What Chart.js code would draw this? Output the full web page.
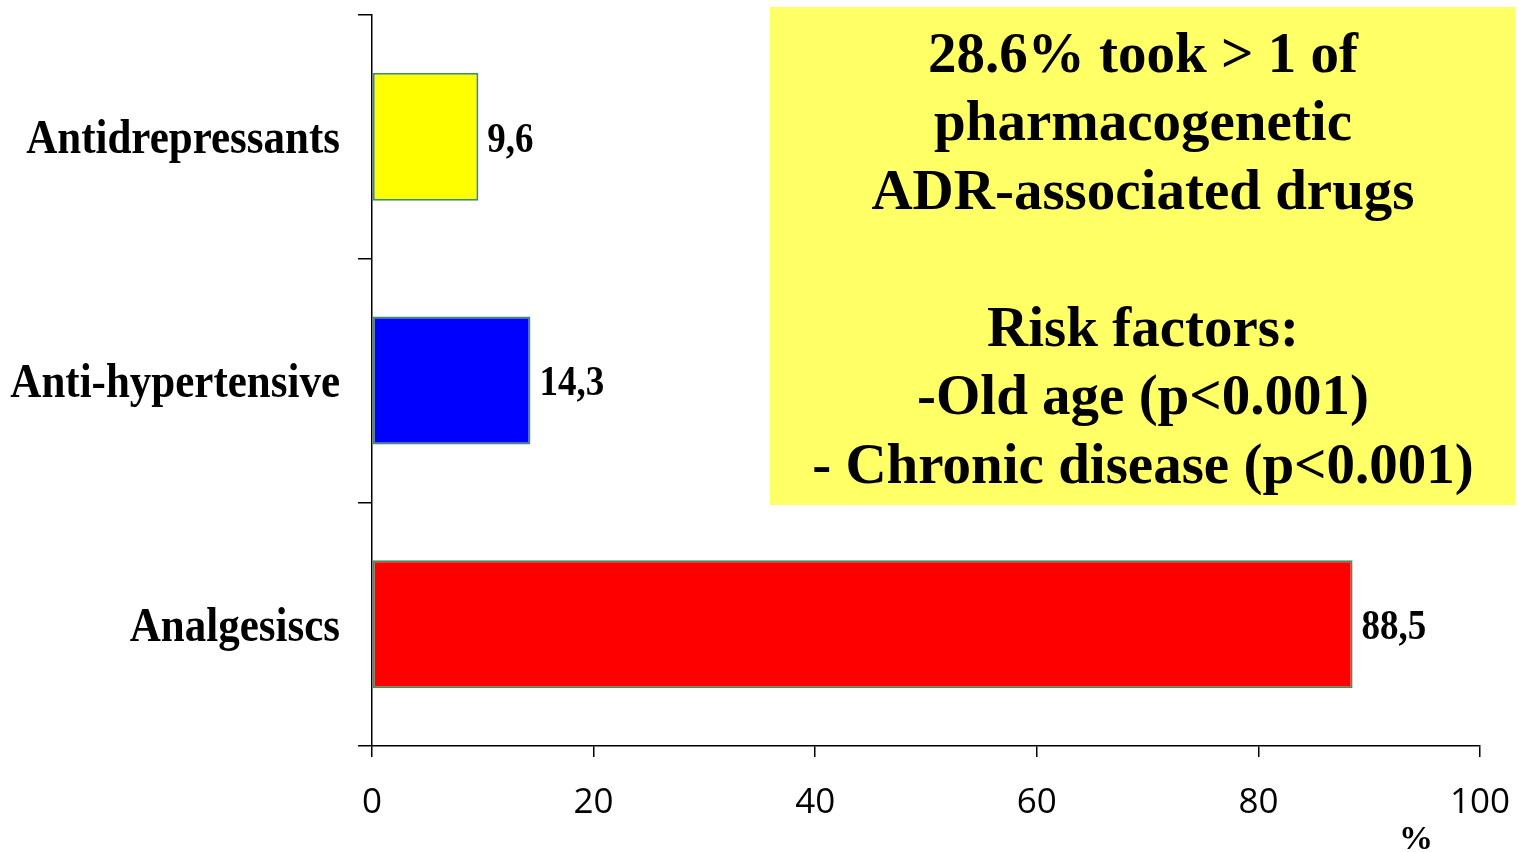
<!DOCTYPE html>
<html>
<head>
<meta charset="utf-8">
<title>Pharmacogenetic ADR-associated drugs</title>
<script src="https://cdn.jsdelivr.net/npm/chart.js@4/dist/chart.umd.min.js"></script>
<style>
  html, body { margin: 0; padding: 0; background: #fff; }
  #chart { display: block; }
</style>
</head>
<body>
<canvas id="chart" width="1523" height="852"></canvas>
<script>
// ── Data ──────────────────────────────────────────────────
const categories = ['Antidrepressants', 'Anti-hypertensive', 'Analgesiscs'];
const percentages = [9.6, 14.3, 88.5];
const barColors = ['#ffff00', '#0000ff', '#ff0000'];
const xTicks = [0, 20, 40, 60, 80, 100];
const noteLines = [
  '28.6% took > 1 of',
  'pharmacogenetic',
  'ADR-associated drugs',
  '',
  'Risk factors:',
  '-Old age (p<0.001)',
  '- Chronic disease (p<0.001)'
];

const SERIF = '"Liberation Serif", "Times New Roman", serif';
const SANS = '"Open Sans", "Noto Sans", sans-serif';

// draw text a little taller than the font's natural shape
function tallText(ctx, txt, x, y, stretch) {
  ctx.save();
  ctx.translate(x, y);
  ctx.scale(1, stretch);
  ctx.fillText(txt, 0, 0);
  ctx.restore();
}

// category names left of the y axis
const categoryLabels = {
  id: 'categoryLabels',
  afterDraw(chart) {
    const ctx = chart.ctx;
    const y = chart.scales.y;
    ctx.save();
    ctx.font = 'bold 43px ' + SERIF;
    ctx.fillStyle = '#000';
    ctx.textAlign = 'right';
    ctx.textBaseline = 'middle';
    categories.forEach(function (name, i) {
      tallText(ctx, name, y.right - 32, y.getPixelForValue(i) + 4, 1.12);
    });
    ctx.restore();
  }
};

// value printed after each bar end, decimal comma
const valueLabels = {
  id: 'valueLabels',
  afterDatasetsDraw(chart) {
    const ctx = chart.ctx;
    const meta = chart.getDatasetMeta(0);
    ctx.save();
    ctx.font = 'bold 37px ' + SERIF;
    ctx.fillStyle = '#000';
    ctx.textAlign = 'left';
    ctx.textBaseline = 'middle';
    meta.data.forEach(function (bar, i) {
      const txt = percentages[i].toFixed(1).replace('.', ',');
      tallText(ctx, txt, bar.x + 9, bar.y + 4, 1.15);
    });
    ctx.restore();
  }
};

// yellow note box and the "%" unit under the x axis
const notes = {
  id: 'notes',
  afterDraw(chart) {
    const ctx = chart.ctx;
    ctx.save();
    ctx.fillStyle = '#ffff66';
    ctx.fillRect(770, 7, 745, 498);

    ctx.fillStyle = '#000';
    ctx.font = 'bold 57px ' + SERIF;
    ctx.textAlign = 'center';
    ctx.textBaseline = 'middle';
    noteLines.forEach(function (line, i) {
      if (line) ctx.fillText(line, 1143, 57 + i * 68.5);
    });

    ctx.font = 'bold 34px ' + SERIF;
    ctx.fillText('%', 1416, 840);
    ctx.restore();
  }
};

new Chart(document.getElementById('chart'), {
  type: 'bar',
  data: {
    labels: categories,
    datasets: [{
      data: percentages,
      backgroundColor: barColors,
      borderColor: '#3f8f5f',
      borderWidth: 2,
      borderSkipped: false,
      barPercentage: 0.525,
      categoryPercentage: 1
    }]
  },
  options: {
    indexAxis: 'y',
    responsive: false,
    animation: false,
    layout: { padding: { top: 15, right: 43, left: 0, bottom: 0 } },
    plugins: {
      legend: { display: false },
      tooltip: { enabled: false }
    },
    scales: {
      x: {
        min: 0,
        max: 100,
        afterBuildTicks(scale) {
          scale.ticks = xTicks.map(function (v) { return { value: v }; });
        },
        afterFit(scale) {
          scale.height = 106;
          scale.paddingLeft = 0;
          scale.paddingRight = 0;
        },
        border: { color: '#000', width: 1.5 },
        grid: { drawOnChartArea: false, color: '#000', lineWidth: 1.5, tickLength: 11 },
        ticks: {
          color: '#000',
          padding: 25,
          maxRotation: 0,
          font: { family: SANS, size: 35 }
        }
      },
      y: {
        offset: true,
        afterFit(scale) {
          scale.width = 372;
          scale.paddingTop = 0;
          scale.paddingBottom = 0;
        },
        border: { color: '#000', width: 1.5 },
        grid: { offset: true, drawOnChartArea: false, color: '#000', lineWidth: 1.5, tickLength: 14 },
        ticks: { display: false }
      }
    }
  },
  plugins: [categoryLabels, valueLabels, notes]
});
</script>
</body>
</html>
